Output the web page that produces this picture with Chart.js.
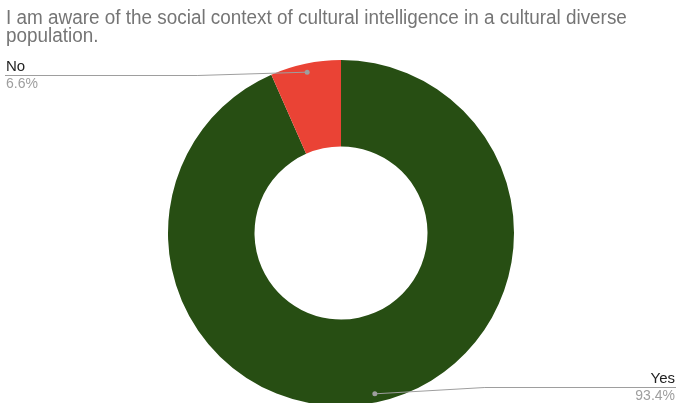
<!DOCTYPE html>
<html>
<head>
<meta charset="utf-8">
<script src="https://cdn.jsdelivr.net/npm/chart.js@4"></script>
<style>
  html, body { margin: 0; padding: 0; background: #fff; overflow: hidden; }
  #wrap { position: relative; width: 677px; height: 406px; }
</style>
</head>
<body>
<div id="wrap"><canvas id="chart"></canvas></div>
<script>
const titleLines = ['I am aware of the social context of cultural intelligence in a cultural diverse', 'population.'];
const labels = ['Yes', 'No'];
const values = [93.4, 6.6];
const colors = ['#274e13', '#ea4335'];

// leader lines with label + percentage, drawn off each slice
const calloutPlugin = {
  id: 'callouts',
  afterDatasetsDraw(chart) {
    const ctx = chart.ctx;
    const arcs = chart.getDatasetMeta(0).data;
    ctx.save();
    arcs.forEach((arc, i) => {
      const mid = (arc.startAngle + arc.endAngle) / 2;
      const r = arc.innerRadius + (arc.outerRadius - arc.innerRadius) * 0.9;
      const px = arc.x + Math.cos(mid) * r;
      const py = arc.y + Math.sin(mid) * r;
      const right = Math.cos(mid) > 0;
      const lineY = right ? 387.5 : 75.5;
      const endX = right ? 676 : 5;
      const elbowX = right ? px + 110 : px - 110;

      ctx.strokeStyle = '#9e9e9e';
      ctx.lineWidth = 1;
      ctx.beginPath();
      ctx.moveTo(px, py);
      ctx.lineTo(elbowX, lineY);
      ctx.lineTo(endX, lineY);
      ctx.stroke();

      ctx.fillStyle = '#9e9e9e';
      ctx.beginPath();
      ctx.arc(px, py, 2.5, 0, Math.PI * 2);
      ctx.fill();

      ctx.textAlign = right ? 'right' : 'left';
      ctx.textBaseline = 'alphabetic';
      ctx.font = '15px "Liberation Sans", Arial, sans-serif';
      ctx.fillStyle = '#222';
      ctx.fillText(labels[i], right ? 675 : 6, lineY - 5);
      ctx.font = '14px "Liberation Sans", Arial, sans-serif';
      ctx.fillStyle = '#9e9e9e';
      ctx.fillText(values[i].toFixed(1) + '%', right ? 675 : 6, lineY + 12);
    });
    ctx.restore();
  }
};

// two-line grey title, slightly condensed
const titlePlugin = {
  id: 'titleText',
  afterDraw(chart) {
    const ctx = chart.ctx;
    ctx.save();
    ctx.font = '20px "Liberation Sans", Arial, sans-serif';
    ctx.fillStyle = '#757575';
    ctx.textBaseline = 'alphabetic';
    ctx.textAlign = 'left';
    ctx.translate(6, 0);
    ctx.scale(0.945, 1);
    titleLines.forEach((line, i) => ctx.fillText(line, 0, 23.5 + i * 18));
    ctx.restore();
  }
};

new Chart(document.getElementById('chart'), {
  type: 'doughnut',
  data: {
    labels: labels,
    datasets: [{
      data: values,
      backgroundColor: colors,
      borderWidth: 0
    }]
  },
  options: {
    responsive: true,
    maintainAspectRatio: false,
    animation: false,
    cutout: '50%',
    layout: { padding: { top: 60, left: 5, right: 0, bottom: 0 } },
    plugins: {
      legend: { display: false },
      tooltip: { enabled: false },
      title: { display: false }
    }
  },
  plugins: [calloutPlugin, titlePlugin]
});
</script>
</body>
</html>
